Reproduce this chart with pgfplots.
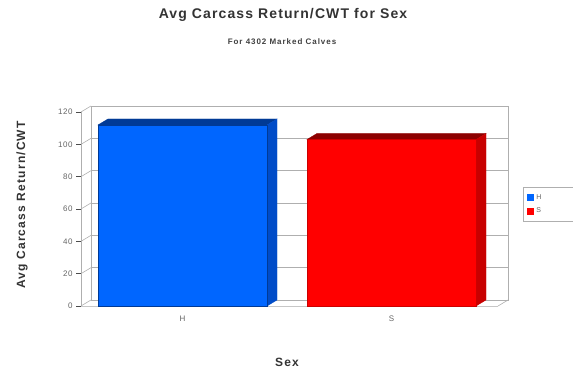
\documentclass[border=0pt]{standalone}
\usepackage{fontspec}
\setmainfont{Liberation Sans}
\usepackage{pgfplots}
\pgfplotsset{compat=1.18}
\definecolor{hfront}{RGB}{0,102,255}
\definecolor{htop}{RGB}{0,58,150}
\definecolor{hside}{RGB}{0,76,200}
\definecolor{sfront}{RGB}{255,0,0}
\definecolor{stop}{RGB}{140,0,0}
\definecolor{sside}{RGB}{200,0,0}
\definecolor{wall}{RGB}{175,175,175}
\definecolor{ticktext}{RGB}{100,100,100}
\begin{document}
\begin{tikzpicture}[x=1pt,y=1pt]
\useasboundingbox (0,0) rectangle (573,372);
% titles
\node[font=\fontsize{14}{16}\selectfont\bfseries\addfontfeature{LetterSpace=8},text=black!80] at (283,357) {Avg Carcass Return/CWT for Sex};
\node[font=\fontsize{8}{9}\selectfont\bfseries\addfontfeature{LetterSpace=12},text=black!75] at (282,330) {For 4302 Marked Calves};
\node[rotate=90,font=\fontsize{12}{14}\selectfont\bfseries\addfontfeature{LetterSpace=10},text=black!80] at (22,167) {Avg Carcass Return/CWT};
\node[font=\fontsize{12}{14}\selectfont\bfseries\addfontfeature{LetterSpace=10},text=black!80] at (287,10) {Sex};
% back wall
\begin{axis}[
  at={(91pt,72pt)}, anchor=south west,
  width=417pt, height=194pt, scale only axis,
  xmin=0, xmax=1, ymin=0, ymax=120,
  xtick=\empty, ytick={0,20,...,120}, yticklabels={},
  major tick length=0pt,
  ymajorgrids, grid style={wall, line width=0.6pt},
  axis line style={wall, line width=0.6pt},
]
\end{axis}
% left wall and floor connectors
\foreach \k in {0,...,6} {
  \draw[wall, line width=0.6pt] (81,{66+\k*194/6}) -- (91,{72+\k*194/6});
}
\draw[wall, line width=0.6pt] (498,66) -- (508,72);
% front axis with bars
\begin{axis}[
  at={(81pt,66pt)}, anchor=south west,
  width=417pt, height=194pt, scale only axis,
  xmin=-0.486, xmax=1.5096, ymin=0, ymax=120,
  axis x line=bottom, axis y line=left,
  axis line style={-, wall, line width=0.6pt},
  x axis line style={wall!70},
  xtick={0,1}, xticklabels={H,S},
  ytick={0,20,...,120},
  tick align=outside,
  y tick style={black!70, line width=0.5pt},
  x tick style={draw=none},
  major tick length=5pt,
  tick label style={font=\fontsize{8}{9}\selectfont\addfontfeature{LetterSpace=6}, text=ticktext},
  /pgf/number format/assume math mode=true,
  xticklabel style={yshift=-1pt},
  clip=false,
  legend style={at={(1.06,0.523)}, anchor=west, draw=wall, line width=0.6pt,
    font=\fontsize{7}{8}\selectfont, text=ticktext,
    inner xsep=4pt, inner ysep=5pt, row sep=3pt},
  legend cell align=left,
  legend image code/.code={\fill[#1,draw=none] (0pt,-3.5pt) rectangle (7pt,3.5pt);},
]
% H bar
\addplot[forget plot, fill=htop, draw=htop, line width=0.3pt] coordinates {(-0.4045,112) (-0.3567,115.71) (0.4523,115.71) (0.4045,112)} --cycle;
\addplot[forget plot, fill=hside, draw=hside, line width=0.3pt] coordinates {(0.4045,0) (0.4523,3.71) (0.4523,115.71) (0.4045,112)} --cycle;
\addplot[ybar, bar width=0.809, bar shift=0pt, fill=hfront, draw=htop, line width=0.4pt] coordinates {(0,112)};
\addlegendentry{\makebox[40pt][l]{H}}
% S bar
\addplot[forget plot, fill=stop, draw=stop, line width=0.3pt] coordinates {(0.5955,103) (0.6433,106.71) (1.4523,106.71) (1.4045,103)} --cycle;
\addplot[forget plot, fill=sside, draw=sside, line width=0.3pt] coordinates {(1.4045,0) (1.4523,3.71) (1.4523,106.71) (1.4045,103)} --cycle;
\addplot[ybar, bar width=0.809, bar shift=0pt, fill=sfront, draw=sfront!80!black, line width=0.4pt] coordinates {(1,103)};
\addlegendentry{\makebox[40pt][l]{S}}
\end{axis}
\end{tikzpicture}
\end{document}
